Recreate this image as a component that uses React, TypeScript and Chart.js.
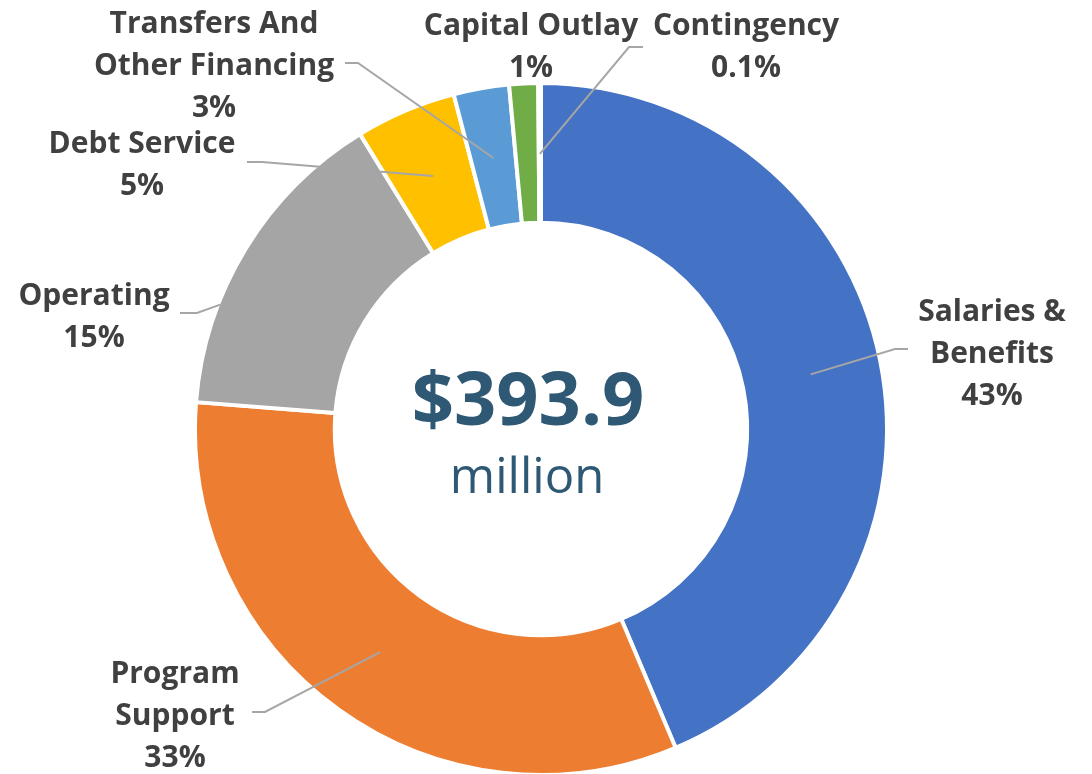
import React, { useEffect, useRef } from "react";
import { Chart, registerables } from "chart.js";

Chart.register(...registerables);

// ---- data ----
const categories = [
  "Salaries & Benefits",
  "Program Support",
  "Operating",
  "Debt Service",
  "Transfers And Other Financing",
  "Capital Outlay",
  "Contingency",
];
const amounts = [171.9, 128.4, 59.1, 18.5, 10.2, 5.3, 0.5]; // $ millions
const percentLabels = ["43%", "33%", "15%", "5%", "3%", "1%", "0.1%"];
const labelNameLines = [
  ["Salaries &", "Benefits"],
  ["Program", "Support"],
  ["Operating"],
  ["Debt Service"],
  ["Transfers And", "Other Financing"],
  ["Capital Outlay"],
  ["Contingency"],
];
const totalText = "$393.9";
const unitText = "million";

// ---- styles / layout ----
const sliceColors = ["#4472C4", "#ED7D31", "#A5A5A5", "#FFC000", "#5B9BD5", "#70AD47", "#264478"];
const labelColor = "#404040";
const centerColor = "#2E5874";
const leaderColor = "#A6A6A6";
const labelFont = 'bold 30px "Open Sans"';
const lineHeight = 42;

type Leader = { from: [number, number]; elbow: [number, number]; t: number; rf: number } | null;
const labelLayout: { x: number; y: number; leader: Leader }[] = [
  { x: 992, y: 321, leader: { from: [908, 349], elbow: [895, 349], t: 0.5, rf: 0.5 } },
  { x: 175, y: 683, leader: { from: [252, 712], elbow: [265, 712], t: 0.5, rf: 0.5 } },
  { x: 94, y: 305, leader: { from: [180, 313], elbow: [197, 313], t: 0.31, rf: 1.0 } },
  { x: 142, y: 153, leader: { from: [247, 162], elbow: [262, 162], t: 0.5, rf: 0.5 } },
  { x: 214, y: 33, leader: { from: [345, 63], elbow: [358, 63], t: 0.5, rf: 0.5 } },
  { x: 531, y: 35, leader: null },
  { x: 746, y: 35, leader: { from: [643, 47], elbow: [629, 47], t: 0.5, rf: 0.5 } },
];

const labelsPlugin = {
  id: "outerLabels",
  afterDatasetsDraw(chart: any) {
    const ctx = chart.ctx as CanvasRenderingContext2D;
    const meta = chart.getDatasetMeta(0);
    ctx.save();
    // leader lines
    ctx.strokeStyle = leaderColor;
    ctx.lineWidth = 2;
    meta.data.forEach((arc: any, i: number) => {
      const lay = labelLayout[i];
      if (!lay || !lay.leader) return;
      const p = arc.getProps(["x", "y", "startAngle", "endAngle", "innerRadius", "outerRadius"], true);
      const a = p.startAngle + lay.leader.t * (p.endAngle - p.startAngle);
      const r = p.innerRadius + lay.leader.rf * (p.outerRadius - 2 - p.innerRadius);
      const ex = p.x + Math.cos(a) * r;
      const ey = p.y + Math.sin(a) * r;
      ctx.beginPath();
      ctx.moveTo(lay.leader.from[0], lay.leader.from[1]);
      ctx.lineTo(lay.leader.elbow[0], lay.leader.elbow[1]);
      ctx.lineTo(ex, ey);
      ctx.stroke();
    });
    // labels
    ctx.fillStyle = labelColor;
    ctx.font = labelFont;
    ctx.textAlign = "center";
    ctx.textBaseline = "alphabetic";
    labelNameLines.forEach((lines, i) => {
      const lay = labelLayout[i];
      const all = [...lines, percentLabels[i]];
      all.forEach((t, k) => ctx.fillText(t, lay.x, lay.y + k * lineHeight));
    });
    // center text
    const first = meta.data[0];
    if (first) {
      const cx = first.x;
      const cy = first.y;
      ctx.fillStyle = centerColor;
      ctx.font = 'bold 74px "Open Sans"';
      ctx.fillText(totalText, cx - 13, cy - 4);
      ctx.font = '49px "Open Sans"';
      ctx.fillText(unitText, cx - 14, cy + 64);
    }
    ctx.restore();
  },
};

export default function App() {
  const ref = useRef<HTMLCanvasElement | null>(null);
  useEffect(() => {
    if (!ref.current) return;
    const chart = new Chart(ref.current, {
      type: "doughnut",
      data: {
        labels: categories,
        datasets: [
          {
            data: amounts,
            backgroundColor: sliceColors,
            borderColor: "#ffffff",
            borderWidth: 4,
            hoverOffset: 0,
          },
        ],
      },
      options: {
        animation: false,
        responsive: true,
        maintainAspectRatio: false,
        cutout: "59.6%",
        layout: { padding: { left: 193, right: 203, top: 81, bottom: 0 } },
        plugins: {
          legend: { display: false },
          tooltip: { enabled: false },
        },
      },
      plugins: [labelsPlugin],
    });
    return () => chart.destroy();
  }, []);
  return (
    <div style={{ position: "fixed", left: 0, top: 0, width: 1092, height: 777, background: "#fff" }}>
      <canvas ref={ref} />
    </div>
  );
}
